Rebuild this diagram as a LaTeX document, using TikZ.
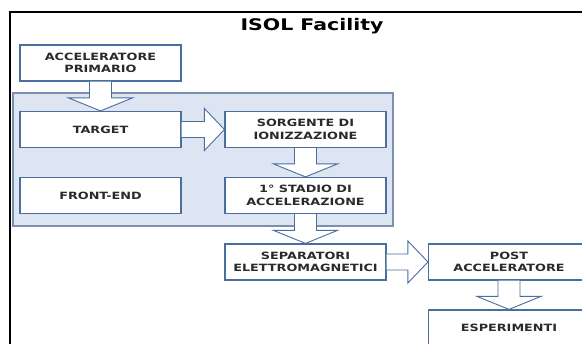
\documentclass[tikz,border=0pt]{standalone}
\usepackage{fontspec}
\setmainfont[FakeStretch=1.28]{DejaVu Sans}
\usetikzlibrary{calc}
\definecolor{boxline}{HTML}{4A6E9E}
\definecolor{panelfill}{HTML}{DCE5F1}
\definecolor{panelline}{HTML}{7C8FAE}
\definecolor{inktext}{HTML}{2A2A2A}
\tikzset{
  stagebox/.style={draw=boxline, line width=1.2pt, fill=white, minimum width=161pt,
    minimum height=36pt, inner sep=0pt, align=center, text=inktext,
    font=\fontsize{10}{12.5}\selectfont\bfseries},
  blockarrow/.style={draw=boxline, line width=0.9pt, fill=white, line join=miter},
}
% block arrow pointing down from the south side of #1 to the north side of #2
\newcommand\downblock[2]{%
  \path let \p1=(#1.south), \p2=(#2.north) in
    [blockarrow] (\x1-11pt,\y1) -- (\x1-11pt,\y2+13pt) -- (\x1-32pt,\y2+13pt)
    -- (\x1,\y2) -- (\x1+32pt,\y2+13pt) -- (\x1+11pt,\y2+13pt) -- (\x1+11pt,\y1);}
% block arrow pointing right from the east side of #1 to the west side of #2
\newcommand\rightblock[2]{%
  \path let \p1=(#1.east), \p2=(#2.west) in
    [blockarrow] (\x1,\y1+8pt) -- (\x2-20pt,\y1+8pt) -- (\x2-20pt,\y1+21pt)
    -- (\x2,\y1) -- (\x2-20pt,\y1-21pt) -- (\x2-20pt,\y1-8pt) -- (\x1,\y1-8pt);}
\begin{document}
\begin{tikzpicture}[x=1pt,y=-1pt]
  \useasboundingbox (0,0) rectangle (582,344);
  \fill[white] (0,0) rectangle (582,344);
  % outer frame
  \draw[black, line width=2.4pt] (10,350) -- (10,12) -- (590,12);
  \node[font=\fontsize{16}{19}\selectfont\bfseries, text=black] (title) at (312,26) {ISOL Facility};
  % front-end panel
  \draw[panelline, fill=panelfill, line width=1.2pt] (13,93) rectangle (393,226);
  % stages
  \node[stagebox] (acc)  at (100.5,63)   {ACCELERATORE\\PRIMARIO};
  \node[stagebox] (tgt)  at (100.5,129.5) {TARGET};
  \node[stagebox] (src)  at (305.5,129.5) {SORGENTE DI\\IONIZZAZIONE};
  \node[stagebox] (fe)   at (100.5,195.5) {FRONT-END};
  \node[stagebox] (st1)  at (305.5,195.5) {1° STADIO DI\\ACCELERAZIONE};
  \node[stagebox] (sep)  at (305.5,262)  {SEPARATORI\\ELETTROMAGNETICI};
  \node[stagebox] (post) at (509,262)    {POST\\ACCELERATORE};
  \node[stagebox] (exp)  at (509,328)    {ESPERIMENTI};
  % flow
  \downblock{acc}{tgt}
  \rightblock{tgt}{src}
  \downblock{src}{st1}
  \downblock{st1}{sep}
  \rightblock{sep}{post}
  \downblock{post}{exp}
\end{tikzpicture}
\end{document}
